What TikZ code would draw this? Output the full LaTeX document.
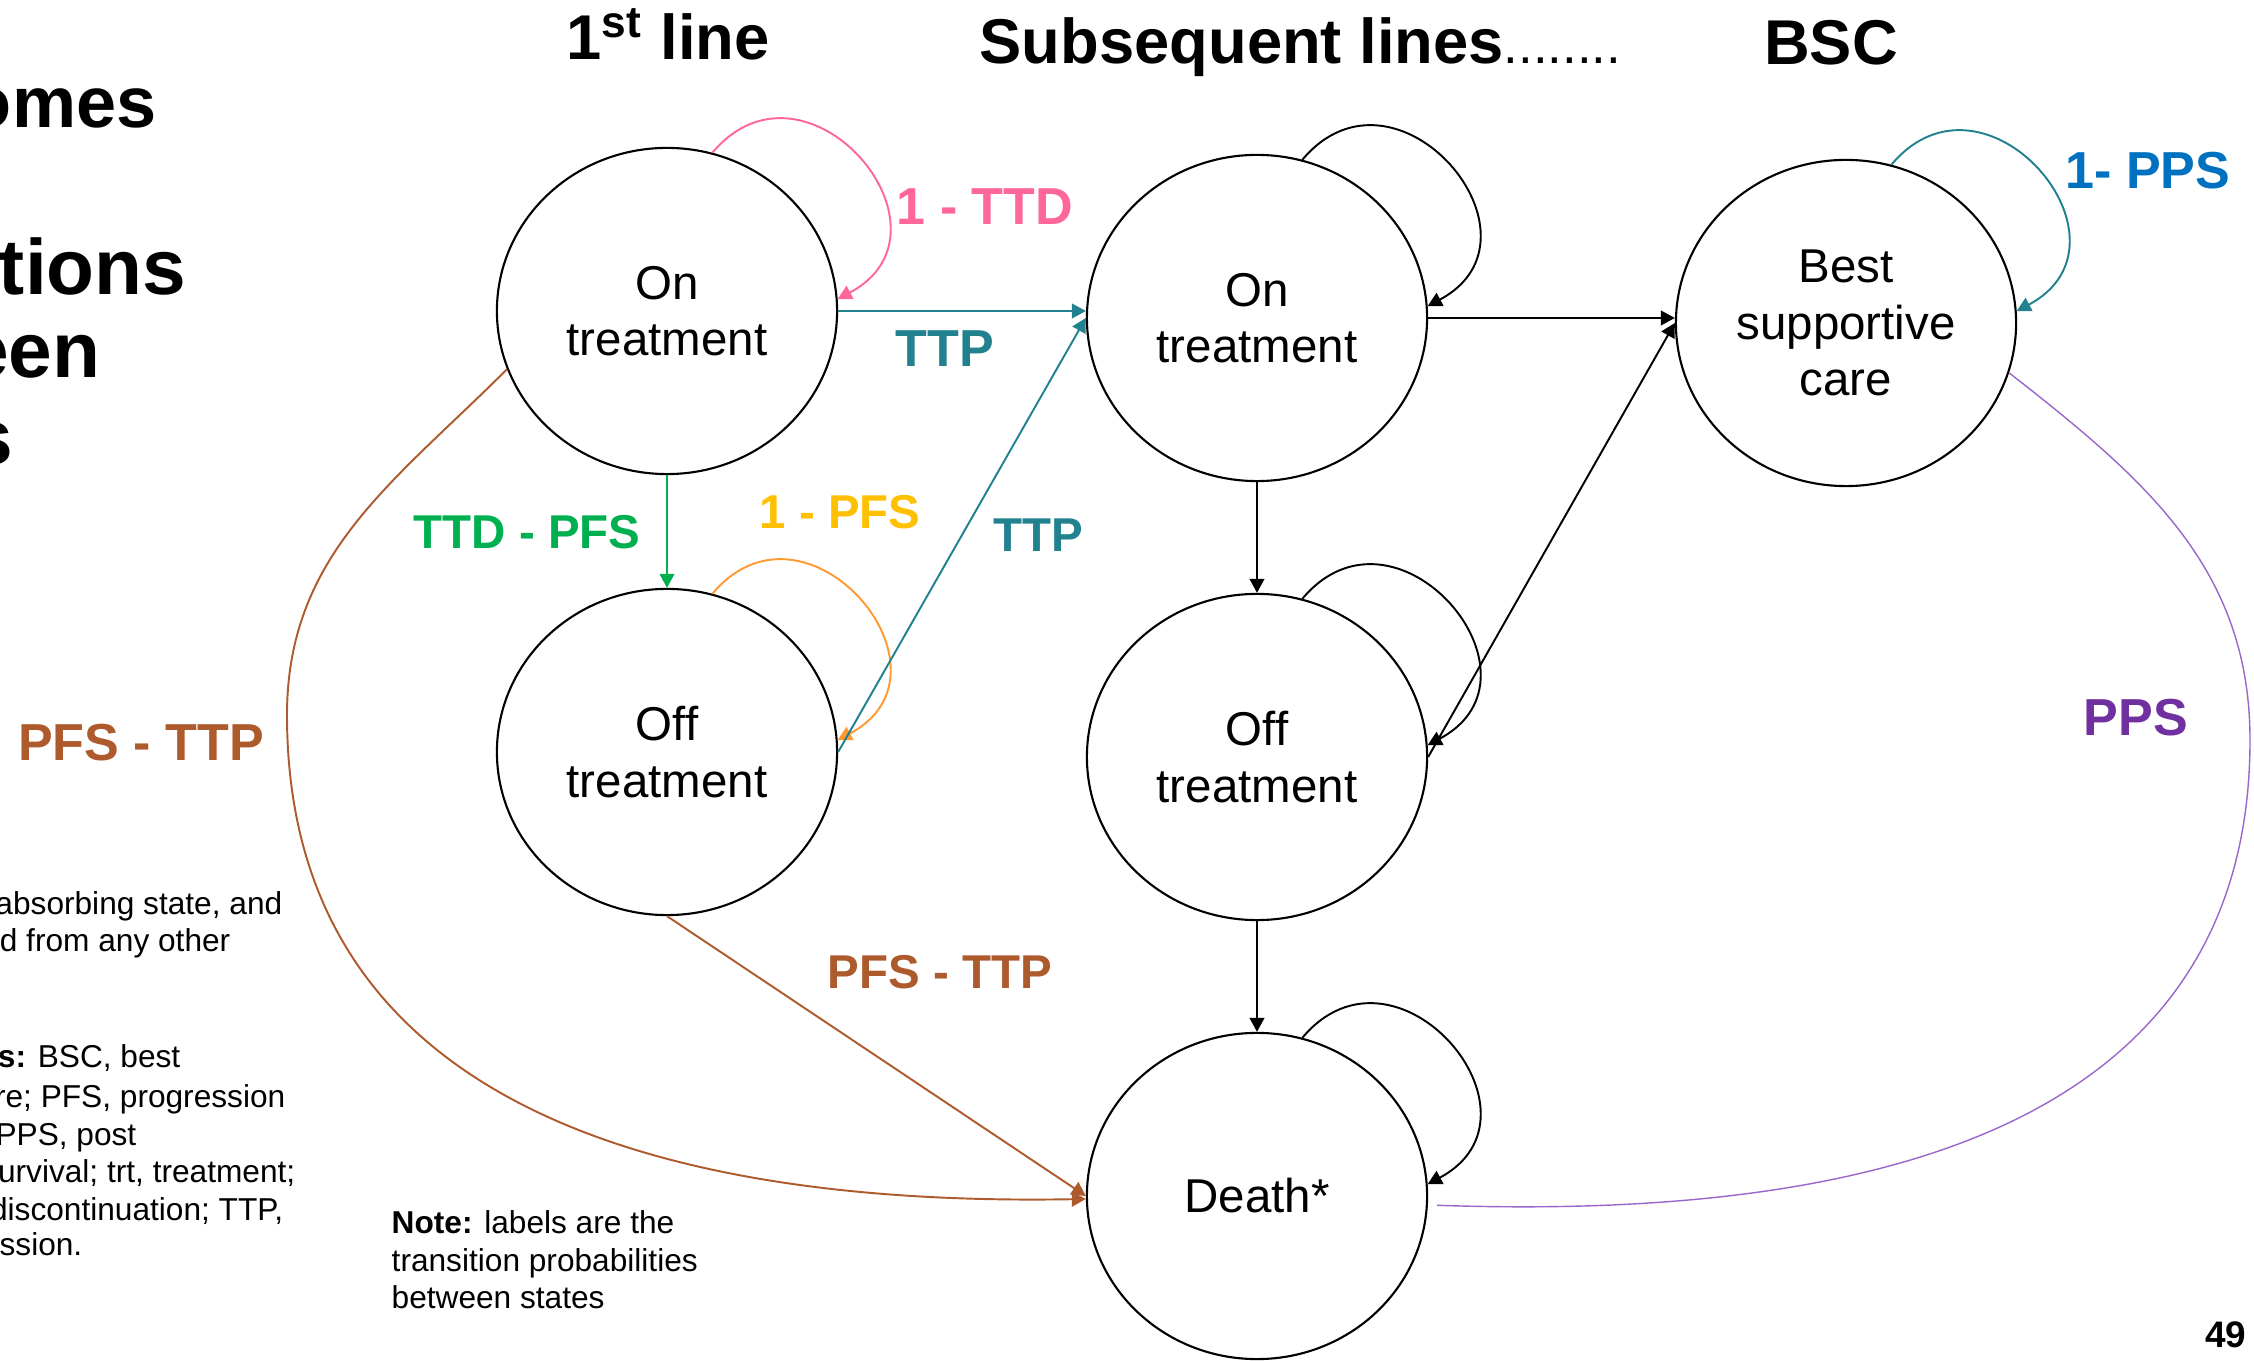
\documentclass[tikz,border=0pt]{standalone}
\usepackage{fontspec}
\setmainfont{Liberation Sans}
\usetikzlibrary{arrows.meta,shapes.geometric}
\definecolor{ttdpink}{HTML}{FF6699}
\definecolor{ttpteal}{HTML}{21818F}
\definecolor{pfsgreen}{HTML}{00B050}
\definecolor{pfsgold}{HTML}{FFC000}
\definecolor{looporange}{HTML}{FF9933}
\definecolor{pfsbrown}{HTML}{AD5A2D}
\definecolor{ppspurple}{HTML}{7030A0}
\definecolor{ppsline}{HTML}{9966CC}
\definecolor{ppsblue}{HTML}{0070C0}

\begin{document}
\begin{tikzpicture}[x=0.01cm,y=0.01cm,
  state/.style={ellipse, draw=black, line width=0.6pt, minimum width=3.4cm,
    minimum height=3.26cm, inner sep=0pt, align=center,
    font=\fontsize{13.5pt}{16pt}\selectfont},
  conn/.style={line width=0.55pt, -{Triangle[length=4pt,width=4.2pt]}},
  selfloop/.style={conn},
  biglbl/.style={font=\bfseries\fontsize{14.8pt}{17pt}\selectfont, inner sep=0pt, anchor=base},
  smalllbl/.style={font=\bfseries\fontsize{13.5pt}{16pt}\selectfont, inner sep=0pt, anchor=base},
  header/.style={font=\bfseries\fontsize{18pt}{21pt}\selectfont, inner sep=0pt, anchor=base},
  titlefrag/.style={font=\bfseries\fontsize{22.3pt}{26pt}\selectfont, inner sep=0pt, anchor=base east},
  notefrag/.style={font=\fontsize{9pt}{10.8pt}\selectfont, inner sep=0pt},
]
\useasboundingbox (0,0) rectangle (2254,1360);

% ---- states ----
\node[state] (on1)   at (667,1049) {On\\treatment};
\node[state] (off1)  at (667,608)  {Off\\treatment};
\node[state] (on2)   at (1257,1042) {On\\treatment};
\node[state] (off2)  at (1257,603)  {Off\\treatment};
\node[state] (death) at (1257,164)  {Death*};
\node[state] (bsc)   at (1846,1037) {Best\\supportive\\care};

% ---- column headers ----
\node[header] (h1) at (668,1300) {1\textsuperscript{st} line};
\node[header, anchor=base west] (h2) at (979,1296)
  {Subsequent lines{\mdseries\fontsize{15pt}{18pt}\selectfont ........}};
\node[header] (h3) at (1831,1295) {BSC};

% ---- self loops ----
\draw[selfloop, ttdpink]    (on1.74)   .. controls +(50:146) and +(28:146) .. (on1.4);
\draw[selfloop, looporange] (off1.74)  .. controls +(50:146) and +(28:146) .. (off1.4);
\draw[selfloop, black]      (on2.74)   .. controls +(50:146) and +(28:146) .. (on2.4);
\draw[selfloop, black]      (off2.74)  .. controls +(50:146) and +(28:146) .. (off2.4);
\draw[selfloop, black]      (death.74) .. controls +(50:146) and +(28:146) .. (death.4);
\draw[selfloop, ttpteal]    (bsc.74)   .. controls +(50:146) and +(28:146) .. (bsc.4);

% ---- transitions ----
\draw[conn, pfsgreen] (on1.south) -- (off1.north);
\draw[conn, ttpteal]  (on1.east) -- (on2.west |- on1.east);
\draw[conn, ttpteal]  (off1.east) -- (on2.west);
\draw[conn, black]    (on2.south) -- (off2.north);
\draw[conn, black]    (off2.south) -- (death.north);
\draw[conn, black]    (on2.east) -- (bsc.west |- on2.east);
\draw[conn, black]    (off2.east) -- (bsc.west);
\draw[conn, pfsbrown] (off1.south) -- (death.west);

\coordinate (bl) at (287,645);
\draw[conn, pfsbrown] (on1.200) to[out=225, in=90] (bl)
  to[out=270, in=181, looseness=1.1] (death.181);

\coordinate (br) at (2250,620);
\draw[line width=0.4pt, ppsline, shorten >=0.09cm]
  (bsc.-17) to[out=-38, in=90] (br)
  to[out=270, in=-2, looseness=1.1] (death.-3);

% ---- transition labels ----
\node[biglbl, text=ttdpink]    (l1) at (985,1135) {1 - TTD};
\node[biglbl, text=ttpteal]    (l2) at (945,993)  {TTP};
\node[smalllbl, text=pfsgreen] (l3) at (527,811)  {TTD - PFS};
\node[smalllbl, text=pfsgold]  (l4) at (840,831)  {1 - PFS};
\node[smalllbl, text=ttpteal]  (l5) at (1038,808) {TTP};
\node[biglbl, text=pfsbrown]   (l6) at (141,599)  {PFS - TTP};
\node[smalllbl, text=pfsbrown] (l7) at (940,371)  {PFS - TTP};
\node[biglbl, text=ppspurple]  (l8) at (2136,624) {PPS};
\node[biglbl, text=ppsblue]    (l9) at (2148,1171) {1- PPS};

% ---- side title ----
\node[titlefrag, font=\bfseries\fontsize{20.5pt}{26pt}\selectfont] (t1) at (157,1232) {omes};
\node[titlefrag] (t2) at (187,1065) {tions};
\node[titlefrag] (t3) at (101,982)  {een};
\node[titlefrag] (t4) at (14,895)   {s};

% ---- side notes ----
\node[notefrag, anchor=base east] (n1) at (283,445) {absorbing state, and};
\node[notefrag, anchor=base east] (n2) at (231,408) {d from any other};
\node[notefrag, anchor=base east] (n3) at (181,292) {\textbf{s:} BSC, best};
\node[notefrag, anchor=base east] (n4) at (286,253) {re; PFS, progression};
\node[notefrag, anchor=base east] (n5) at (137,215) {PPS, post};
\node[notefrag, anchor=base east] (n6) at (296,178) {urvival; trt, treatment;};
\node[notefrag, anchor=base east] (n7) at (284,140) {discontinuation; TTP,};
\node[notefrag, anchor=base east] (n8) at (83,105)  {ssion.};

\node[notefrag, anchor=base west] (m1) at (391,127) {\textbf{Note:} labels are the};
\node[notefrag, anchor=base west] (m2) at (391,89)  {transition probabilities};
\node[notefrag, anchor=base west] (m3) at (391,52)  {between states};

\node[font=\bfseries\fontsize{10.5pt}{12pt}\selectfont, inner sep=0pt, anchor=base east]
  (pg) at (2247,13) {49};
\end{tikzpicture}
\end{document}
